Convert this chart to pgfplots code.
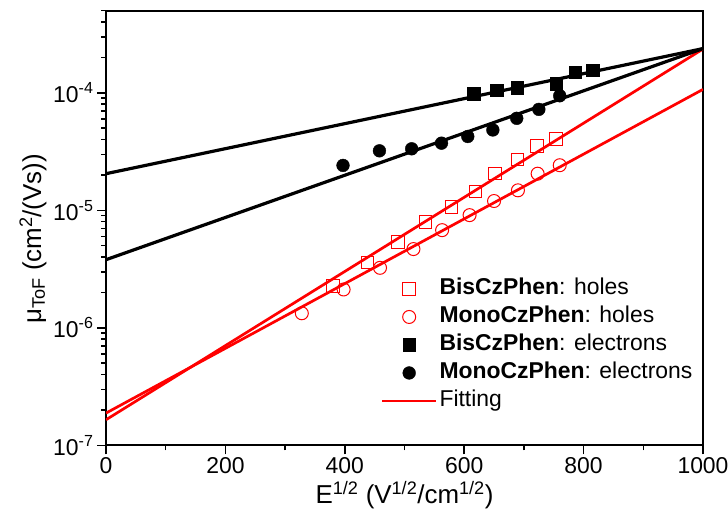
\documentclass[border=0pt]{standalone}
\usepackage{fontspec}
\setmainfont{Liberation Sans}
\usepackage{pgfplots}
\pgfplotsset{compat=1.18}

\definecolor{fitred}{RGB}{255,0,0}

% Time-of-flight mobilities versus square root of the field
\pgfplotstableread{
x     y
616   9.87e-5
654   1.05e-4
689   1.11e-4
754   1.20e-4
786   1.50e-4
815   1.56e-4
}\biselec
\pgfplotstableread{
x     y
397   2.41e-5
458   3.21e-5
512   3.34e-5
562   3.73e-5
606   4.25e-5
648   4.83e-5
688   6.07e-5
725   7.23e-5
760   9.44e-5
}\monoelec
\pgfplotstableread{
x     y
380   2.26e-6
438   3.60e-6
489   5.38e-6
535   7.96e-6
579   1.07e-5
619   1.45e-5
652   2.05e-5
689   2.70e-5
722   3.54e-5
754   4.03e-5
}\bisholes
\pgfplotstableread{
x     y
328   1.33e-6
398   2.12e-6
459   3.24e-6
515   4.68e-6
563   6.78e-6
609   9.10e-6
650   1.20e-5
690   1.48e-5
723   2.05e-5
760   2.42e-5
}\monoholes

\begin{document}
\begin{tikzpicture}
\path[use as bounding box] (-106bp,-79.7bp) rectangle (622bp,445.3bp);
\begin{axis}[
  at={(0,0)}, anchor=south west,
  scale only axis, width=597bp, height=434.6bp,
  xmin=0, xmax=1000,
  ymode=log, ymin=1e-7, ymax=5e-4,
  axis line style={line width=2bp},
  tick align=outside, xtick pos=bottom, ytick pos=left,
  xtick={0,200,400,600,800,1000},
  xticklabels={0,200,400,600,800,1000},
  minor xtick={100,300,500,700,900},
  ytick={1e-7,1e-6,1e-5,1e-4},
  yticklabels={10\textsuperscript{-7},10\textsuperscript{-6},10\textsuperscript{-5},10\textsuperscript{-4}},
  minor ytick={2e-7,3e-7,4e-7,5e-7,6e-7,7e-7,8e-7,9e-7,
               2e-6,3e-6,4e-6,5e-6,6e-6,7e-6,8e-6,9e-6,
               2e-5,3e-5,4e-5,5e-5,6e-5,7e-5,8e-5,9e-5,
               2e-4,3e-4,4e-4,5e-4},
  major tick length=9bp, minor tick length=5bp,
  every tick/.style={line width=1.5bp, black},
  ticklabel style={font=\fontsize{23}{27}\selectfont},
  xlabel={E\textsuperscript{1/2} (V\textsuperscript{1/2}/cm\textsuperscript{1/2})},
  ylabel={μ\textsubscript{ToF} (cm\textsuperscript{2}/(Vs))},
  label style={font=\fontsize{26}{31}\selectfont},
  every axis y label/.append style={at={(ticklabel cs:0.475)}},
  legend image code/.code={\draw[mark repeat=2,mark phase=2,#1]
     plot coordinates {(0bp,0bp) (27bp,0bp) (54bp,0bp)};},
  legend cell align=left,
  legend style={draw=none, fill=none,
    at={(rel axis cs:0.455,0.397)}, anchor=north west,
    font=\fontsize{23}{27}\selectfont,
    row sep=0pt,
    nodes={inner ysep=3bp, text height=17bp, text depth=5bp}},
]
\addplot[only marks, mark=square, mark size=6.3bp, draw=fitred, line width=1bp]
  table {\bisholes};
\addlegendentry{\textbf{BisCzPhen}: holes}
\addplot[only marks, mark=o, mark size=6.5bp, draw=fitred, line width=1bp]
  table {\monoholes};
\addlegendentry{\textbf{MonoCzPhen}: holes}
\addplot[only marks, mark=square*, mark size=6.3bp, black]
  table {\biselec};
\addlegendentry{\textbf{BisCzPhen}: electrons}
\addplot[only marks, mark=*, mark size=6.4bp, black]
  table {\monoelec};
\addlegendentry{\textbf{MonoCzPhen}: electrons}

% linear fits of log(mu) against sqrt(E)
\addplot[fitred, line width=2.7bp, no marks] coordinates {(0,1.65e-7) (1000,2.36e-4)};
\addlegendentry{Fitting}
\addplot[fitred, line width=2.7bp, no marks, forget plot] coordinates {(0,1.88e-7) (1000,1.07e-4)};
\addplot[black, line width=3.2bp, no marks, forget plot] coordinates {(0,2.05e-5) (1000,2.38e-4)};
\addplot[black, line width=3.2bp, no marks, forget plot] coordinates {(0,3.8e-6) (1000,2.38e-4)};
\end{axis}
\end{tikzpicture}
\end{document}
